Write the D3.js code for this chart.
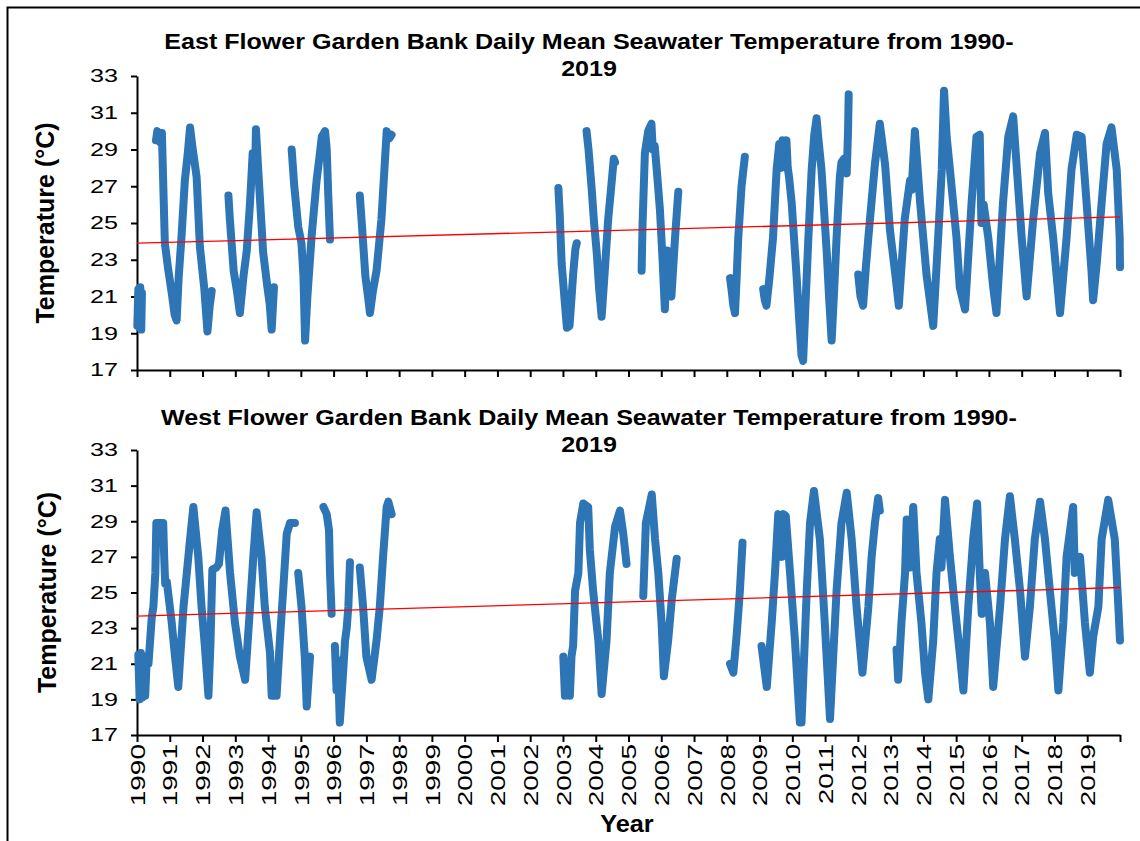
<!DOCTYPE html>
<html>
<head>
<meta charset="utf-8">
<script src="https://cdn.jsdelivr.net/npm/d3@7"></script>
<style>
  body { margin: 0; background: #fff; }
  text { font-family: "Liberation Sans", Arial, sans-serif; fill: #000; }
</style>
</head>
<body>
<div id="chart"></div>
<script>
// values: [year, deg C], null = gap in the record
const eastPoints = [
  [1990.01,19.4],[1990.04,21.4],[1990.07,19.3],[1990.1,21.5],[1990.13,19.2],[1990.15,21.2],
  null,
  [1990.58,29.5],[1990.62,30.0],[1990.7,29.4],[1990.76,29.9],[1990.8,27.2],[1990.85,23.9],[1990.95,22.5],
  [1991.06,21.2],[1991.15,20.0],[1991.21,19.7],[1991.27,22.0],[1991.36,24.3],[1991.46,27.3],[1991.55,28.8],
  [1991.62,30.2],[1991.68,29.3],[1991.75,28.4],[1991.82,27.5],[1991.92,23.7],[1992.05,21.5],[1992.15,19.1],
  [1992.22,20.5],[1992.28,21.3],
  null,
  [1992.79,26.5],[1992.83,25.3],[1992.95,22.4],[1993.05,21.3],[1993.14,20.1],[1993.25,22.1],[1993.35,23.5],
  [1993.45,26.1],[1993.53,28.8],[1993.6,27.5],[1993.63,30.1],[1993.68,28.5],[1993.75,26.4],[1993.85,23.4],
  [1993.98,21.5],[1994.05,20.6],[1994.11,19.2],[1994.15,20.5],[1994.18,21.5],
  null,
  [1994.72,29.0],[1994.8,27.0],[1994.92,24.8],[1995.02,23.9],[1995.08,22.1],[1995.13,18.6],[1995.2,21.0],
  [1995.33,24.3],[1995.48,27.3],[1995.57,28.6],[1995.64,29.7],[1995.74,30.0],[1995.79,29.0],[1995.84,26.4],
  [1995.89,24.1],
  null,
  [1996.8,26.5],[1996.86,25.0],[1996.97,22.1],[1997.05,21.0],[1997.11,20.1],[1997.2,21.3],[1997.31,22.4],
  [1997.46,25.2],[1997.56,28.2],[1997.62,30.0],[1997.7,29.6],[1997.77,29.8],
  null,
  [2002.86,26.9],[2002.9,25.5],[2002.96,22.8],[2003.06,20.6],[2003.12,19.3],[2003.2,19.4],[2003.26,20.9],
  [2003.31,22.2],[2003.38,23.6],[2003.42,23.9],
  null,
  [2003.72,30.0],[2003.78,29.0],[2003.87,27.0],[2003.95,25.0],[2004.03,23.4],[2004.1,21.5],[2004.18,19.9],
  [2004.28,22.5],[2004.38,25.2],[2004.49,27.3],[2004.55,28.5],[2004.59,28.3],
  null,
  [2005.4,22.4],[2005.43,25.0],[2005.5,28.8],[2005.6,30.0],[2005.7,30.4],[2005.74,29.0],[2005.8,29.2],
  [2005.88,27.5],[2005.96,25.7],[2006.04,23.0],[2006.11,20.3],[2006.18,23.5],[2006.24,21.3],[2006.31,21.0],
  [2006.42,24.2],[2006.52,26.7],
  null,
  [2008.1,22.0],[2008.15,21.3],[2008.2,20.5],[2008.25,20.1],[2008.3,22.0],[2008.35,24.2],[2008.45,27.0],
  [2008.55,28.6],
  null,
  [2009.11,21.4],[2009.16,20.8],[2009.21,20.5],[2009.3,22.0],[2009.41,24.2],[2009.52,27.9],[2009.6,29.3],
  [2009.66,28.0],[2009.7,29.5],[2009.78,29.2],[2009.82,29.5],[2009.86,28.0],[2009.9,27.5],[2009.98,26.1],
  [2010.13,22.1],[2010.2,20.0],[2010.28,17.8],[2010.33,17.5],[2010.4,20.5],[2010.49,24.2],[2010.59,27.9],
  [2010.67,29.8],[2010.74,30.7],[2010.8,29.5],[2010.89,27.9],[2011.05,23.4],[2011.12,21.0],[2011.2,18.6],
  [2011.28,21.5],[2011.35,24.2],[2011.45,27.5],[2011.5,28.3],[2011.58,28.5],[2011.66,27.7],[2011.7,30.0],
  [2011.72,32.0],
  null,
  [2012.01,22.2],[2012.08,21.0],[2012.16,20.5],[2012.24,22.5],[2012.32,24.2],[2012.52,28.2],[2012.67,30.4],
  [2012.83,28.2],[2012.98,24.6],[2013.13,22.4],[2013.25,20.5],[2013.43,25.2],[2013.59,27.3],[2013.64,26.8],
  [2013.74,30.0],[2013.9,26.1],[2014.1,22.1],[2014.3,19.4],[2014.45,24.2],[2014.56,27.9],[2014.63,32.2],
  [2014.71,29.7],[2014.81,27.9],[2015.01,24.2],[2015.11,21.5],[2015.27,20.3],[2015.47,26.1],[2015.62,29.7],
  [2015.72,29.8],[2015.77,25.0],[2015.84,26.0],[2015.98,24.2],[2016.13,21.5],[2016.23,20.1],[2016.43,26.1],
  [2016.59,29.7],[2016.74,30.8],[2016.89,27.0],[2017.0,24.2],[2017.15,21.0],[2017.35,25.2],[2017.56,28.8],
  [2017.71,29.9],[2017.81,26.6],[2017.96,24.2],[2018.17,20.1],[2018.37,24.2],[2018.52,27.9],[2018.68,29.8],
  [2018.83,29.7],[2018.98,26.1],[2019.13,22.4],[2019.18,20.8],[2019.29,22.8],[2019.44,26.1],[2019.59,29.3],
  [2019.74,30.2],[2019.9,27.9],[2019.96,25.5],[2019.99,24.2],[2020.0,22.6]
];

const westPoints = [
  [1990.04,21.5],[1990.08,19.0],[1990.12,21.6],[1990.16,19.1],[1990.2,21.3],[1990.25,19.2],[1990.3,21.4],
  [1990.35,21.0],[1990.4,22.3],[1990.45,23.6],[1990.5,24.2],[1990.56,26.1],[1990.59,28.9],[1990.7,28.9],
  [1990.8,28.9],[1990.83,27.0],[1990.86,25.5],[1990.91,25.6],[1991.06,23.3],[1991.16,21.4],[1991.26,19.7],
  [1991.42,24.2],[1991.52,26.1],[1991.62,28.0],[1991.72,29.8],[1991.87,27.0],[1991.97,24.2],[1992.07,22.0],
  [1992.18,19.2],[1992.24,22.0],[1992.3,26.3],[1992.42,26.4],[1992.5,26.6],[1992.6,28.5],[1992.7,29.6],
  [1992.84,26.1],[1992.99,23.3],[1993.14,21.4],[1993.3,20.1],[1993.45,24.2],[1993.55,27.0],[1993.65,29.5],
  [1993.8,27.0],[1993.9,24.2],[1994.06,21.6],[1994.11,19.2],[1994.26,19.2],[1994.36,22.3],[1994.46,25.1],
  [1994.57,28.3],[1994.67,28.9],[1994.82,28.9],
  null,
  [1994.92,26.1],[1995.02,24.2],[1995.12,21.4],[1995.18,18.6],[1995.28,21.4],
  null,
  [1995.69,29.8],[1995.79,29.4],[1995.86,28.5],[1995.89,26.1],[1995.94,23.8],
  null,
  [1996.04,22.0],[1996.09,19.5],[1996.13,21.2],[1996.19,17.7],[1996.29,20.5],[1996.35,22.3],[1996.4,23.0],
  [1996.45,24.2],[1996.5,26.7],
  null,
  [1996.8,26.4],[1996.9,24.2],[1997.0,21.4],[1997.16,20.1],[1997.31,22.3],[1997.41,24.2],[1997.51,27.0],
  [1997.62,29.8],[1997.67,30.1],[1997.77,29.4],
  null,
  [2003.01,21.4],[2003.06,19.2],[2003.16,21.0],[2003.21,19.2],[2003.26,21.4],[2003.31,22.0],[2003.37,25.1],
  [2003.47,26.1],[2003.52,28.9],[2003.62,30.0],[2003.77,29.8],[2003.82,27.4],[2003.92,25.1],[2004.08,22.3],
  [2004.18,19.3],[2004.33,22.3],[2004.43,26.1],[2004.59,28.7],[2004.74,29.6],[2004.84,28.3],[2004.94,26.6],
  null,
  [2005.45,24.8],[2005.53,28.9],[2005.71,30.5],[2005.81,28.0],[2005.91,26.1],[2006.01,23.3],[2006.08,20.3],
  [2006.21,22.3],[2006.32,24.6],[2006.47,26.9],
  null,
  [2008.1,21.0],[2008.2,20.5],[2008.3,22.6],[2008.4,25.1],[2008.48,27.8],
  null,
  [2009.06,22.0],[2009.22,19.7],[2009.37,23.3],[2009.47,26.1],[2009.57,29.4],[2009.64,29.2],[2009.68,27.0],
  [2009.73,29.4],[2009.8,29.3],[2009.93,26.1],[2010.08,22.3],[2010.23,17.7],[2010.28,17.7],[2010.44,25.1],
  [2010.54,28.9],[2010.66,30.7],[2010.84,28.0],[2010.99,23.3],[2011.15,17.9],[2011.35,25.1],[2011.5,28.9],
  [2011.66,30.6],[2011.81,28.0],[2011.96,24.2],[2012.14,20.5],[2012.32,24.2],[2012.42,27.0],[2012.52,28.9],
  [2012.62,30.3],[2012.67,29.6],
  null,
  [2013.18,21.8],[2013.23,20.1],[2013.33,23.3],[2013.44,26.1],[2013.49,29.1],[2013.59,26.4],[2013.69,29.8],
  [2013.79,26.1],[2013.94,23.3],[2014.05,20.5],[2014.15,19.0],[2014.3,22.3],[2014.4,26.1],[2014.5,28.0],
  [2014.55,26.4],[2014.66,30.2],[2014.81,27.0],[2014.96,24.2],[2015.12,21.4],[2015.22,19.5],[2015.37,24.2],
  [2015.52,28.0],[2015.64,30.0],[2015.72,26.1],[2015.78,23.8],[2015.88,26.1],[2016.03,23.3],[2016.13,19.7],
  [2016.34,24.2],[2016.49,28.0],[2016.64,30.4],[2016.79,28.0],[2016.95,25.1],[2017.1,21.4],[2017.25,24.2],
  [2017.4,28.0],[2017.56,30.1],[2017.71,28.0],[2017.86,25.1],[2018.01,22.3],[2018.12,19.5],[2018.27,23.3],
  [2018.37,27.0],[2018.57,29.8],[2018.62,26.1],[2018.78,27.0],[2018.93,23.3],[2019.08,20.5],[2019.18,22.5],
  [2019.34,24.2],[2019.44,28.0],[2019.64,30.2],[2019.84,28.0],[2019.95,24.2],[2020.0,22.3]
];

// linear trend, start and end value
const trendYears = [1990, 2020];
const eastTrend = [23.9, 25.33];
const westTrend = [23.67, 25.28];

const tempTicks = [17, 19, 21, 23, 25, 27, 29, 31, 33];
const yearTicks = d3.range(1990, 2021);

const eastTitle = ["East Flower Garden Bank Daily Mean Seawater Temperature from 1990-", "2019"];
const westTitle = ["West Flower Garden Bank Daily Mean Seawater Temperature from 1990-", "2019"];

const W = 1140, H = 841;
const svg = d3.select("#chart").append("svg")
  .attr("width", W).attr("height", H);

svg.append("rect").attr("width", W).attr("height", H).attr("fill", "#fff");

// frame (only left and top edge are in view)
svg.append("path")
  .attr("d", "M7.5," + H + "V7.5H" + W)
  .attr("fill", "none").attr("stroke", "#000").attr("stroke-width", 2);

const x = d3.scaleLinear().domain([1990, 2020]).range([137, 1120]);
const stretch = 1.4; // tick labels in the picture are wide

function panel(points, trend, title, top, bottom, titleY, labelX, showYears) {
  const y = d3.scaleLinear().domain([17, 33]).range([bottom, top]);
  const g = svg.append("g");

  // title, two lines, a little wider than plain Arial
  g.append("g")
    .attr("transform", "translate(589," + titleY + ") scale(1.14,1)")
    .append("text")
    .attr("text-anchor", "middle")
    .style("font-size", "22px").style("font-weight", "bold")
    .selectAll("tspan").data(title).join("tspan")
    .attr("x", 0).attr("y", (d, i) => i * 27)
    .text(d => d);

  // y axis
  const ya = g.append("g")
    .attr("transform", "translate(137,0)")
    .call(d3.axisLeft(y).tickValues(tempTicks).tickSize(6).tickSizeOuter(0).tickPadding(13));
  ya.selectAll("text")
    .style("font-size", "18px")
    .attr("transform", "scale(" + stretch + ",1)")
    .attr("x", -19 / stretch);

  // x axis
  const xa = g.append("g")
    .attr("transform", "translate(0," + bottom + ")")
    .call(d3.axisBottom(x).tickValues(yearTicks).tickSize(7).tickSizeOuter(0)
      .tickFormat(d => (showYears && d < 2020) ? d : ""));
  xa.selectAll("text")
    .style("font-size", "20px")
    .style("text-anchor", "end")
    .attr("y", 0).attr("dy", "0.36em")
    .attr("x", -9 / stretch)
    .attr("transform", "rotate(-90) scale(" + stretch + ",1)");

  [ya, xa].forEach(a => {
    a.selectAll("path, line").attr("stroke", "#000").attr("stroke-width", 2);
  });

  g.append("text")
    .attr("transform", "translate(" + labelX + "," + ((top + bottom) / 2) + ") rotate(-90)")
    .attr("text-anchor", "middle").attr("dy", "0.35em")
    .style("font-size", "25px").style("font-weight", "bold")
    .text("Temperature (°C)");

  // daily means
  g.append("path")
    .datum(points)
    .attr("fill", "none")
    .attr("stroke", "#2e75b6")
    .attr("stroke-width", 8)
    .attr("stroke-linejoin", "round")
    .attr("stroke-linecap", "round")
    .attr("d", d3.line().defined(d => d)
      .x(d => x(d[0]))
      .y(d => y(d[1])));

  // trend line
  g.append("path")
    .datum(trendYears.map((yr, i) => [yr, trend[i]]))
    .attr("fill", "none")
    .attr("stroke", "#ff0000")
    .attr("stroke-width", 1.3)
    .attr("d", d3.line().x(d => x(d[0])).y(d => y(d[1])));
}

panel(eastPoints, eastTrend, eastTitle, 76, 370, 49, 45, false);
panel(westPoints, westTrend, westTitle, 450, 735, 425, 47, true);

svg.append("g")
  .attr("transform", "translate(627,832) scale(1.1,1)")
  .append("text")
  .attr("text-anchor", "middle")
  .style("font-size", "23px").style("font-weight", "bold")
  .text("Year");
</script>
</body>
</html>
